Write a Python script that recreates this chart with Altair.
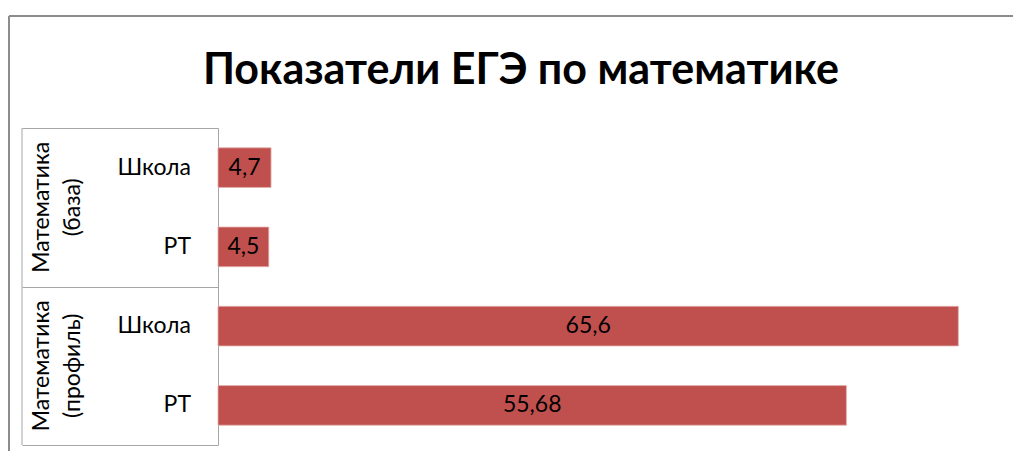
import altair as alt
import pandas as pd

FONT = "Lato"

# ---- data ----
title_text = "Показатели ЕГЭ по математике"
group_names = ["Математика (база)", "Математика (профиль)"]
groups = ["Математика (база)", "Математика (база)", "Математика (профиль)", "Математика (профиль)"]
subs = ["Школа", "РТ", "Школа", "РТ"]
values = [4.7, 4.5, 65.6, 55.68]

df = pd.DataFrame({"group": groups, "sub": subs, "value": values})
df["key"] = df["group"] + "|" + df["sub"]
keys = list(df["key"])
gdf = pd.DataFrame({"group": group_names})

BAR = "#C0504D"
GRID = "#A6A6A6"
BORDER = "#8C8C8C"

y_key = alt.Y("key:N", sort=keys, axis=None,
              scale=alt.Scale(paddingInner=0.5, paddingOuter=0.25))
x_val = alt.Scale(domain=[0, 70], nice=False, zero=True)

bars = alt.Chart(df).mark_bar(color=BAR, stroke="#E3AFAD", strokeWidth=0.8).encode(
    x=alt.X("value:Q", scale=x_val, axis=None),
    y=y_key,
)

value_labels = alt.Chart(df).transform_calculate(
    mid="datum.value / 2",
    label="replace(format(datum.value, ''), '.', ',')",
).mark_text(font=FONT, fontSize=23, color="#000000", baseline="middle").encode(
    x=alt.X("mid:Q", scale=x_val, axis=None),
    y=y_key,
    text="label:N",
)

sub_labels = alt.Chart(df).mark_text(
    font=FONT, fontSize=23, color="#000000", align="right", baseline="middle"
).encode(
    x=alt.value(-27),
    y=y_key,
    text="sub:N",
)

group_labels = alt.Chart(gdf).mark_text(
    font=FONT, fontSize=23, color="#000000", angle=270, lineBreak=" ",
    lineHeight=31, align="center", baseline="middle"
).encode(
    x=alt.value(-176),
    y=alt.Y("group:N", sort=group_names,
            scale=alt.Scale(paddingInner=0, paddingOuter=0),
            axis=alt.Axis(title=None, labels=False, tickBand="extent", tickSize=196,
                          tickColor=GRID, domainColor=GRID, tickWidth=1, domainWidth=1,
                          grid=False)),
    text="group:N",
)

one = alt.Data(values=[{}])
box_left = alt.Chart(one).mark_rule(color=GRID, strokeWidth=1).encode(
    x=alt.value(-196), y=alt.value(0), y2=alt.value(317))
border_v = alt.Chart(one).mark_rule(color=BORDER, strokeWidth=2).encode(
    x=alt.value(-209), y=alt.value(-112), y2=alt.value(330))
border_h = alt.Chart(one).mark_rule(color=BORDER, strokeWidth=2).encode(
    x=alt.value(-209), x2=alt.value(800), y=alt.value(-112))

title = alt.Chart(one).mark_text(
    font=FONT, fontSize=43, fontWeight="bold", color="#000000",
    align="center", baseline="alphabetic"
).encode(x=alt.value(303), y=alt.value(-44), text=alt.value(title_text))

chart = alt.layer(
    border_v, border_h, title, group_labels, box_left, bars, value_labels, sub_labels
).resolve_scale(y="independent").properties(
    width=790, height=317,
    padding={"left": 210, "top": 120, "right": 5, "bottom": 6},
    autosize="none",
).configure_view(stroke=None)

chart.save("out.html", embed_options={"renderer": "svg", "actions": False})
